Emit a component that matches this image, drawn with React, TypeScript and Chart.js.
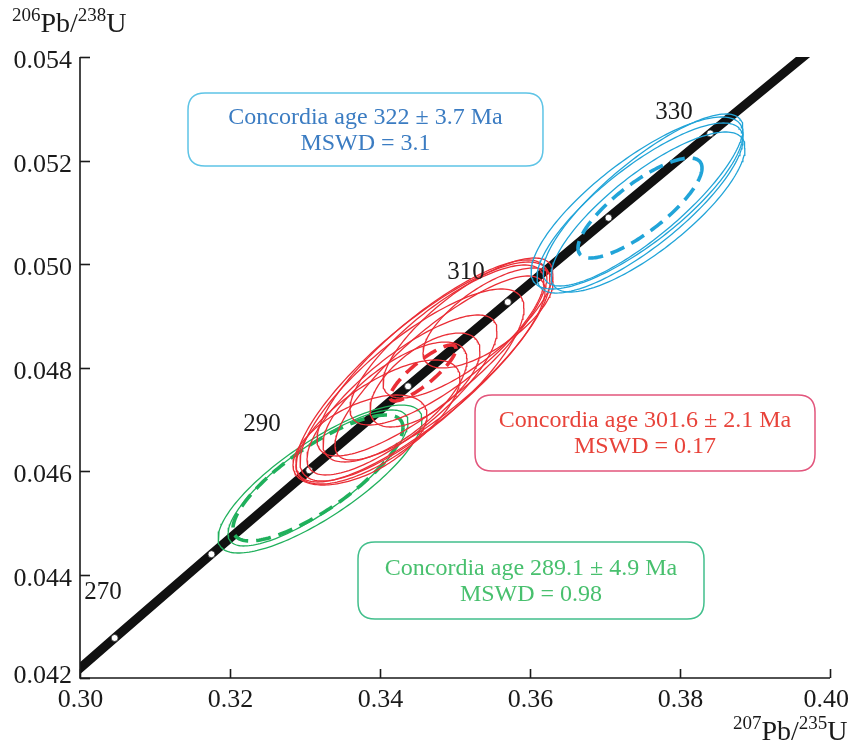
import React, { useEffect, useRef } from "react";
import { Chart, registerables } from "chart.js";

Chart.register(...registerables);

// ---------- axis ticks ----------
const X_TICKS = [0.3, 0.32, 0.34, 0.36, 0.38, 0.4];
const Y_TICKS = [0.042, 0.044, 0.046, 0.048, 0.05, 0.052, 0.054];

// ---------- concordia curve (ages in Ma) ----------
const CONCORDIA_AGES = [260, 270, 280, 290, 300, 310, 320, 330, 340];
const CONCORDIA_X = [0.29183, 0.30462, 0.31753, 0.33057, 0.34374, 0.35704, 0.37047, 0.38403, 0.39773];
const CONCORDIA_Y = [0.041157, 0.042773, 0.044392, 0.046014, 0.047637, 0.049264, 0.050893, 0.052524, 0.054158];
const MARKER_AGES = [270, 280, 290, 300, 310, 320, 330];

// age labels next to the curve
const LABEL_AGES = ["270", "290", "310", "330"];
const LABEL_X = [0.303067, 0.324267, 0.351467, 0.3792];
const LABEL_Y = [0.043662, 0.046908, 0.049845, 0.052937];

// ---------- error ellipses: [centerX, centerY, halfRangeX, halfRangeY, rho] ----------
const BLUE_ELLIPSES = [
  [0.37427, 0.051179, 0.014133, 0.001662, 0.8],
  [0.374667, 0.051082, 0.013733, 0.001643, 0.81],
  [0.375067, 0.051237, 0.013333, 0.001662, 0.83],
  [0.375733, 0.051005, 0.012933, 0.001546, 0.8],
];
const BLUE_MEAN = [0.374667, 0.051082, 0.008267, 0.000966, 0.8];

const RED_ELLIPSES = [
  [0.345733, 0.047913, 0.016933, 0.002126, 0.83],
  [0.344267, 0.047662, 0.014933, 0.001855, 0.8],
  [0.346933, 0.048184, 0.015333, 0.001894, 0.83],
  [0.348933, 0.048435, 0.012933, 0.001546, 0.8],
  [0.342933, 0.047469, 0.012667, 0.001546, 0.8],
  [0.346, 0.047758, 0.007333, 0.000908, 0.62],
  [0.337333, 0.046599, 0.008933, 0.00087, 0.55],
  [0.339733, 0.046947, 0.010933, 0.001198, 0.7],
  [0.351733, 0.048763, 0.011333, 0.001353, 0.78],
  [0.3544, 0.048957, 0.008667, 0.000966, 0.7],
  [0.348, 0.04799, 0.014, 0.001778, 0.84],
  [0.342, 0.047333, 0.0096, 0.001159, 0.7],
];
const RED_MEAN = [0.345733, 0.047894, 0.0044, 0.000541, 0.86];

const GREEN_ELLIPSES = [
  [0.332, 0.045845, 0.0136, 0.00143, 0.8],
  [0.331733, 0.045865, 0.012, 0.001314, 0.82],
];
const GREEN_MEAN = [0.331733, 0.045865, 0.011333, 0.001217, 0.8];

// ---------- result boxes ----------
const BOX_LINES = [
  ["Concordia age 322 \u00b1 3.7 Ma", "MSWD = 3.1"],
  ["Concordia age 301.6 \u00b1 2.1 Ma", "MSWD = 0.17"],
  ["Concordia age 289.1 \u00b1 4.9 Ma", "MSWD = 0.98"],
];
// [left, right, top, bottom] in data units
const BOX_EXTENTS = [
  [0.3144, 0.36173, 0.053304, 0.051894],
  [0.35267, 0.398, 0.047469, 0.046],
  [0.337067, 0.3832, 0.044628, 0.04314],
];

const C_BLUE = "#21a4d8";
const C_RED = "#ea2e36";
const C_GREEN = "#20b05c";
const BOX_STYLE = [
  { text: "#3b7cc2", border: "#5ec4e6" },
  { text: "#e8433a", border: "#e2557c" },
  { text: "#48c06e", border: "#42bf8c" },
];

const SERIF = "'Liberation Serif', 'Times New Roman', serif";

function ellipsePoints(e: number[], n = 180) {
  const [cx, cy, sx, sy, rho] = e;
  const k = Math.sqrt(1 - rho * rho);
  const pts: { x: number; y: number }[] = [];
  for (let i = 0; i <= n; i++) {
    const t = (i / n) * 2 * Math.PI;
    pts.push({ x: cx + sx * Math.cos(t), y: cy + sy * (rho * Math.cos(t) + k * Math.sin(t)) });
  }
  return pts;
}

function ellipseDataset(e: number[], color: string, dashed: boolean) {
  return {
    data: ellipsePoints(e),
    showLine: true,
    borderColor: color,
    borderWidth: dashed ? 3.6 : 1.3,
    borderDash: dashed ? [15, 8] : [],
    pointRadius: 0,
    tension: 0,
    fill: false,
    order: 1,
  };
}

function drawRatioLabel(ctx: CanvasRenderingContext2D, x: number, y: number, a: string, b: string, c: string, d: string) {
  const big = `28px ${SERIF}`;
  const small = `19px ${SERIF}`;
  let cx = x;
  ctx.textAlign = "left";
  ctx.textBaseline = "alphabetic";
  ctx.font = small;
  ctx.fillText(a, cx, y - 11);
  cx += ctx.measureText(a).width;
  ctx.font = big;
  ctx.fillText(b, cx, y);
  cx += ctx.measureText(b).width;
  ctx.font = small;
  ctx.fillText(c, cx, y - 11);
  cx += ctx.measureText(c).width;
  ctx.font = big;
  ctx.fillText(d, cx, y);
}

function roundRect(ctx: CanvasRenderingContext2D, l: number, t: number, w: number, h: number, r: number) {
  ctx.beginPath();
  ctx.moveTo(l + r, t);
  ctx.lineTo(l + w - r, t);
  ctx.quadraticCurveTo(l + w, t, l + w, t + r);
  ctx.lineTo(l + w, t + h - r);
  ctx.quadraticCurveTo(l + w, t + h, l + w - r, t + h);
  ctx.lineTo(l + r, t + h);
  ctx.quadraticCurveTo(l, t + h, l, t + h - r);
  ctx.lineTo(l, t + r);
  ctx.quadraticCurveTo(l, t, l + r, t);
  ctx.closePath();
}

const decorPlugin = {
  id: "decor",
  afterDatasetsDraw(chart: any) {
    const ctx: CanvasRenderingContext2D = chart.ctx;
    const xs = chart.scales.x;
    const ys = chart.scales.y;
    const area = chart.chartArea;
    const W = chart.width;
    ctx.save();

    // axes
    ctx.strokeStyle = "#1a1a1a";
    ctx.lineWidth = 1.6;
    ctx.beginPath();
    ctx.moveTo(area.left, area.top);
    ctx.lineTo(area.left, area.bottom);
    ctx.lineTo(area.right, area.bottom);
    ctx.stroke();

    ctx.fillStyle = "#1a1a1a";
    ctx.font = `26px ${SERIF}`;
    // y ticks (inward)
    ctx.textAlign = "right";
    ctx.textBaseline = "alphabetic";
    Y_TICKS.forEach((v, i) => {
      const py = Math.round(ys.getPixelForValue(v)) + 0.5;
      ctx.beginPath();
      ctx.moveTo(area.left, py);
      ctx.lineTo(area.left + 10, py);
      ctx.stroke();
      const off = i === 0 ? 4 : 10;
      ctx.fillText(v.toFixed(3), area.left - 8, py + off);
    });
    // x ticks (inward)
    ctx.textAlign = "center";
    X_TICKS.forEach((v) => {
      const px = Math.round(xs.getPixelForValue(v)) + 0.5;
      ctx.beginPath();
      ctx.moveTo(px, area.bottom);
      ctx.lineTo(px, area.bottom - 9);
      ctx.stroke();
      const s = v.toFixed(2);
      const half = ctx.measureText(s).width / 2;
      const lx = Math.min(px, W - half);
      ctx.fillText(s, lx, area.bottom + 29);
    });

    // axis titles
    drawRatioLabel(ctx, 12, 32, "206", "Pb/", "238", "U");
    drawRatioLabel(ctx, 733, 740, "207", "Pb/", "235", "U");

    // age labels
    ctx.font = `25px ${SERIF}`;
    ctx.textAlign = "center";
    ctx.textBaseline = "middle";
    LABEL_AGES.forEach((s, i) => {
      ctx.fillText(s, xs.getPixelForValue(LABEL_X[i]), ys.getPixelForValue(LABEL_Y[i]));
    });

    // result boxes
    BOX_EXTENTS.forEach((b, i) => {
      const l = xs.getPixelForValue(b[0]);
      const r = xs.getPixelForValue(b[1]);
      const t = ys.getPixelForValue(b[2]);
      const btm = ys.getPixelForValue(b[3]);
      ctx.lineWidth = 1.5;
      ctx.strokeStyle = BOX_STYLE[i].border;
      roundRect(ctx, l, t, r - l, btm - t, 17);
      ctx.stroke();
      ctx.fillStyle = BOX_STYLE[i].text;
      ctx.font = `24px ${SERIF}`;
      ctx.textAlign = "center";
      ctx.textBaseline = "middle";
      const cx = (l + r) / 2;
      const cy = (t + btm) / 2;
      ctx.fillText(BOX_LINES[i][0], cx, cy - 12);
      ctx.fillText(BOX_LINES[i][1], cx, cy + 14);
    });

    ctx.restore();
  },
};

export default function App() {
  const ref = useRef<HTMLCanvasElement | null>(null);

  useEffect(() => {
    document.body.style.margin = "0";
    const canvas = ref.current;
    if (!canvas) return;

    const concordia = CONCORDIA_AGES.map((_, i) => ({ x: CONCORDIA_X[i], y: CONCORDIA_Y[i] }));
    const markers = MARKER_AGES.map((a) => {
      const i = CONCORDIA_AGES.indexOf(a);
      return { x: CONCORDIA_X[i], y: CONCORDIA_Y[i] };
    });

    const datasets: any[] = [
      {
        data: concordia,
        showLine: true,
        borderColor: "#111111",
        borderWidth: 9,
        pointRadius: 0,
        tension: 0,
        clip: 0,
        order: 3,
      },
      {
        data: markers,
        showLine: false,
        pointRadius: 3.5,
        pointBackgroundColor: "#ffffff",
        pointBorderColor: "#222222",
        pointBorderWidth: 0.8,
        order: 2,
      },
    ];
    BLUE_ELLIPSES.forEach((e) => datasets.push(ellipseDataset(e, C_BLUE, false)));
    datasets.push(ellipseDataset(BLUE_MEAN, C_BLUE, true));
    RED_ELLIPSES.forEach((e) => datasets.push(ellipseDataset(e, C_RED, false)));
    datasets.push(ellipseDataset(RED_MEAN, C_RED, true));
    GREEN_ELLIPSES.forEach((e) => datasets.push(ellipseDataset(e, C_GREEN, false)));
    datasets.push(ellipseDataset(GREEN_MEAN, C_GREEN, true));

    const chart = new Chart(canvas, {
      type: "scatter",
      data: { datasets },
      options: {
        responsive: false,
        animation: false,
        events: [],
        layout: { padding: { left: 80, top: 57, right: 19, bottom: 67 } },
        plugins: { legend: { display: false }, tooltip: { enabled: false } },
        scales: {
          x: { type: "linear", min: 0.3, max: 0.4, display: false },
          y: { type: "linear", min: 0.042, max: 0.054, display: false },
        },
      },
      plugins: [decorPlugin],
    });
    return () => chart.destroy();
  }, []);

  return (
    <div style={{ position: "absolute", left: 0, top: 0, width: 849, height: 745, background: "#fff" }}>
      <canvas ref={ref} width={849} height={745} style={{ display: "block" }} />
    </div>
  );
}
